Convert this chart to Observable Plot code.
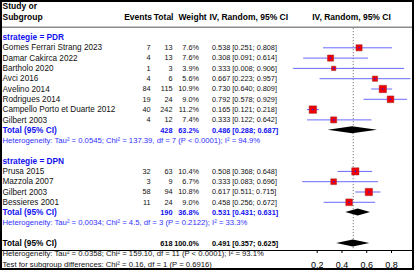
<!DOCTYPE html>
<html><head><meta charset="utf-8">
<script src="https://cdn.jsdelivr.net/npm/d3@7"></script>
<script src="https://cdn.jsdelivr.net/npm/@observablehq/plot@0.6"></script>
<style>
body{margin:0;background:#fff;}
#chart svg{display:block;outline:2px solid #000;outline-offset:-2px;}
</style></head><body><div id="chart"></div>
<script>
// ---- data ----
const subgroups = ["PDR", "DPN"];
const studies = ["Gomes Ferrari Strang 2023", "Damar Cakirca 2022", "Bartholo 2020", "Avci 2016", "Avelino 2014", "Rodrigues 2014", "Campello Porto et Duarte 2012", "Gilbert 2003",
                 "Prusa 2015", "Mazzola 2007", "Gilbert 2003", "Bessieres 2001"];
const studyGroup = ["PDR","PDR","PDR","PDR","PDR","PDR","PDR","PDR","DPN","DPN","DPN","DPN"];
const events  = [7, 4, 1, 4, 84, 19, 40, 4, 32, 3, 58, 11];
const totals  = [13, 13, 3, 6, 115, 24, 242, 12, 63, 9, 94, 24];
const weights = [7.6, 7.6, 3.9, 5.6, 10.9, 9.0, 11.2, 7.4, 10.4, 6.7, 10.8, 9.0];
const est     = [0.538, 0.308, 0.333, 0.667, 0.730, 0.792, 0.165, 0.333, 0.508, 0.333, 0.617, 0.458];
const lower   = [0.251, 0.091, 0.008, 0.223, 0.640, 0.578, 0.121, 0.122, 0.368, 0.083, 0.511, 0.256];
const upper   = [0.808, 0.614, 0.906, 0.957, 0.809, 0.929, 0.218, 0.642, 0.648, 0.696, 0.715, 0.672];

const subTotal  = [428, 190];
const subWeight = [63.2, 36.8];
const subEst    = [0.486, 0.531];
const subLower  = [0.288, 0.431];
const subUpper  = [0.687, 0.631];
const subHet = [
  "Heterogeneity: Tau\u00b2 = 0.0545; Chi\u00b2 = 137.39, df = 7 (P < 0.0001); I\u00b2 = 94.9%",
  "Heterogeneity: Tau\u00b2 = 0.0034; Chi\u00b2 = 4.5, df = 3 (P = 0.2122); I\u00b2 = 33.3%"
];
const overallTotal = 618, overallWeight = 100.0, overallEst = 0.491, overallLower = 0.357, overallUpper = 0.625;
const overallHet = "Heterogeneity: Tau\u00b2 = 0.0358; Chi\u00b2 = 159.10, df = 11 (P < 0.0001); I\u00b2 = 93.1%";
const subgroupTest = "Test for subgroup differences: Chi\u00b2 = 0.16, df = 1 (P = 0.6916)";
const tickValues = [0.2, 0.4, 0.6, 0.8];

// ---- build rows ----
const fmtCI = (e, l, u) => `${e.toFixed(3)} [${l.toFixed(3)}; ${u.toFixed(3)}]`;
const fmtW = w => w.toFixed(1) + "%";
let r = 0;
const studyRows = [], headRows = [], totRows = [], hetRows = [], diamonds = [];
subgroups.forEach((g, gi) => {
  headRows.push({row: r++, label: "strategie = " + g});
  studies.forEach((s, i) => {
    if (studyGroup[i] !== g) return;
    studyRows.push({row: r++, label: s, ev: events[i], n: totals[i], w: weights[i], est: est[i], lo: lower[i], hi: upper[i]});
  });
  const t = {row: r++, label: "Total (95% CI)", n: subTotal[gi], w: subWeight[gi], est: subEst[gi], lo: subLower[gi], hi: subUpper[gi], g};
  totRows.push(t);
  hetRows.push({row: r++, label: subHet[gi]});
  r++;
});
const overallRow = {row: r++, label: "Total (95% CI)", n: overallTotal, w: overallWeight, est: overallEst, lo: overallLower, hi: overallUpper, g: "all"};
const overallHetRow = {row: r++, label: overallHet};
const testRow = {row: r++, label: subgroupTest};
const lastRow = testRow.row;

const h = 0.34;
[...totRows, overallRow].forEach(t => {
  diamonds.push({g: t.g, x: t.lo, y1: t.row, y2: t.row});
  diamonds.push({g: t.g, x: t.est, y1: t.row - h, y2: t.row + h});
  diamonds.push({g: t.g, x: t.hi, y1: t.row, y2: t.row});
});

const BLUE = "#1010f0";
const NUM = 7.3;
const txt = (data, text, dx, anchor, o = {}) => Plot.text(data, {y: "row", text, frameAnchor: "left", dx, textAnchor: anchor, ...o});
const headerRows = [{row: -3, label: "Study or"}, {row: -2, label: "Subgroup"}];
const colHead = [{row: -2}];

const chart = Plot.plot({
  width: 414, height: 270,
  marginTop: 28, marginBottom: 20, marginLeft: 0, marginRight: 0,
  style: {fontFamily: "'Liberation Sans', Arial, Helvetica, sans-serif", fontSize: "9px", background: "#fff", overflow: "hidden"},
  x: {domain: [0.2, 0.8], range: [316.7, 391], ticks: tickValues, tickFormat: d => d.toFixed(1), tickSize: 3, tickPadding: 8, line: true, label: null},
  y: {domain: [0, lastRow], range: [37, 263.6], axis: null},
  r: {type: "sqrt", domain: [0, 100], range: [0, 12.64]},
  marks: [
    Plot.ruleY([-1], {stroke: "#8c8c8c", strokeWidth: 1.6}),
    Plot.ruleX([overallEst], {stroke: "#555", strokeDasharray: "1.2,1.8", strokeWidth: 0.8}),
    Plot.ruleY(studyRows, {y: "row", x1: "lo", x2: "hi", stroke: "#6a6aff", strokeWidth: 1}),
    Plot.dot(studyRows, {x: "est", y: "row", r: "w", symbol: "square", fill: "#f00000", stroke: "#9b3030", strokeWidth: 0.5}),
    Plot.dot(studyRows, {x: "est", y: "row", r: 0.8, fill: "#2020ff"}),
    Plot.areaY(diamonds, {x: "x", y1: "y1", y2: "y2", z: "g", fill: "#000", curve: "linear"}),
    // headers
    txt(headerRows, "label", 2, "start", {fontSize: 8.5, fontWeight: "bold"}),
    txt(colHead, () => "Events", 151.5, "end", {fontSize: 8.5, fontWeight: "bold"}),
    txt(colHead, () => "Total", 173, "end", {fontSize: 8.5, fontWeight: "bold"}),
    txt(colHead, () => "Weight", 178, "start", {fontSize: 8.5, fontWeight: "bold"}),
    txt(colHead, () => "IV, Random, 95% CI", 209, "start", {fontSize: 8.5, fontWeight: "bold"}),
    txt(colHead, () => "IV, Random, 95% CI", 351, "middle", {fontSize: 8.5, fontWeight: "bold"}),
    // subgroup headings
    txt(headRows, "label", 2, "start", {fontSize: 8.3, fontWeight: "bold", fill: BLUE}),
    // study rows
    txt(studyRows, "label", 2, "start", {fontSize: 8.2, fill: "#111"}),
    txt(studyRows, "ev", 150, "end", {fontSize: NUM, fill: "#111"}),
    txt(studyRows, "n", 172, "end", {fontSize: NUM, fill: "#111"}),
    txt(studyRows, d => fmtW(d.w), 198.5, "end", {fontSize: NUM, fill: "#111"}),
    txt(studyRows, d => fmtCI(d.est, d.lo, d.hi), 211.5, "start", {fontSize: NUM, fill: "#111"}),
    // subgroup totals
    txt(totRows, "label", 2, "start", {fontSize: 8.3, fontWeight: "bold", fill: BLUE}),
    txt(totRows, "n", 172, "end", {fontSize: NUM, fontWeight: "bold", fill: BLUE}),
    txt(totRows, d => fmtW(d.w), 198.5, "end", {fontSize: NUM, fontWeight: "bold", fill: BLUE}),
    txt(totRows, d => fmtCI(d.est, d.lo, d.hi), 211.5, "start", {fontSize: NUM, fontWeight: "bold", fill: BLUE}),
    txt(hetRows, "label", 2, "start", {fontSize: 7.7, fill: "#3030ff"}),
    // overall
    txt([overallRow], "label", 2, "start", {fontSize: 8.3, fontWeight: "bold", fill: "#000"}),
    txt([overallRow], "n", 172, "end", {fontSize: NUM, fontWeight: "bold", fill: "#000"}),
    txt([overallRow], d => fmtW(d.w), 198.5, "end", {fontSize: NUM, fontWeight: "bold", fill: "#000"}),
    txt([overallRow], d => fmtCI(d.est, d.lo, d.hi), 211.5, "start", {fontSize: NUM, fontWeight: "bold", fill: "#000"}),
    txt([overallHetRow, testRow], "label", 2, "start", {fontSize: 7.7, fill: "#111"})
  ]
});
document.getElementById("chart").append(chart);
</script></body></html>
